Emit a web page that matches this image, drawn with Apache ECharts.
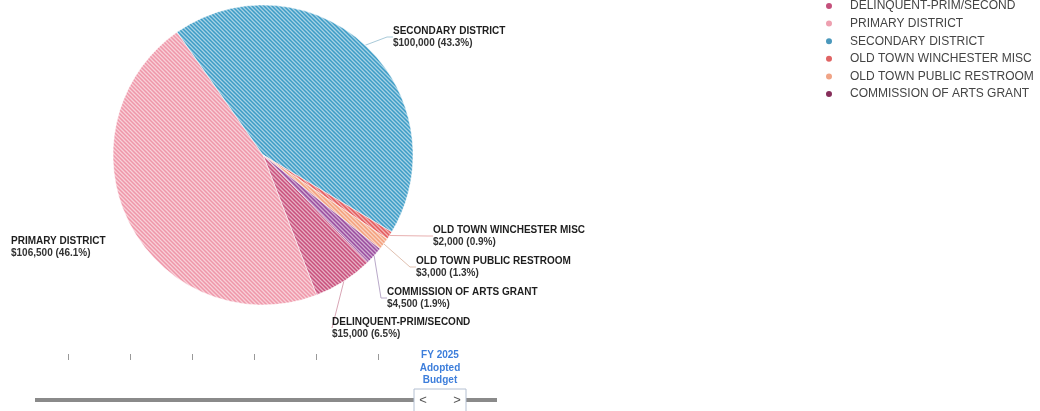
<!DOCTYPE html>
<html>
<head>
<meta charset="utf-8">
<script src="https://cdn.jsdelivr.net/npm/echarts@6/dist/echarts.min.js"></script>
<style>
  html, body { margin: 0; padding: 0; background: #ffffff; }
  #chart { width: 1040px; height: 411px; }
</style>
</head>
<body>
<div id="chart"></div>
<script>
// Funds in the selected budget and their amounts (USD)
const fundNames = [
  'DELINQUENT-PRIM/SECOND',
  'PRIMARY DISTRICT',
  'SECONDARY DISTRICT',
  'OLD TOWN WINCHESTER MISC',
  'OLD TOWN PUBLIC RESTROOM',
  'COMMISSION OF ARTS GRANT'
];
const fundAmounts = [15000, 106500, 100000, 2000, 3000, 4500];

// Budget versions on the selector strip under the pie
const budgetVersions = [
  'FY 2019\nAdopted\nBudget',
  'FY 2020\nAdopted\nBudget',
  'FY 2021\nAdopted\nBudget',
  'FY 2022\nAdopted\nBudget',
  'FY 2023\nAdopted\nBudget',
  'FY 2024\nAdopted\nBudget',
  'FY 2025\nAdopted\nBudget'
];
const selectedVersion = 'FY 2025\nAdopted\nBudget';

// Styling
const FONT = 'Arial, "Liberation Sans", Helvetica, sans-serif';
const sliceColors  = ['#c9507c', '#ef97a9', '#3d9cc6', '#e45a5c', '#f3a07c', '#9a4c9e'];
const legendColors = ['#c4507c', '#eea0b0', '#4a98bc', '#e06464', '#f0a486', '#862e5a'];
const connectorColors = ['#d9a6b6', '#f2c4cc', '#a9cad9', '#e8b0b0', '#e0c0b0', '#b9a9c9'];

// Where each slice's label sits (left edge, vertical middle)
const labelSpots = [
  [332, 328],
  [11, 247],
  [393, 37],
  [433, 236],
  [416, 267],
  [387, 298]
];

// Diagonal hatch fill for a slice
function hatch(color) {
  const c = document.createElement('canvas');
  c.width = 4; c.height = 4;
  const g = c.getContext('2d');
  g.fillStyle = color;
  g.fillRect(0, 0, 4, 4);
  g.strokeStyle = 'rgba(255,255,255,0.55)';
  g.lineWidth = 1.3;
  g.beginPath();
  g.moveTo(-1, -1); g.lineTo(5, 5);
  g.moveTo(-1, 3); g.lineTo(1, 5);
  g.moveTo(3, -1); g.lineTo(5, 1);
  g.stroke();
  return { image: c, repeat: 'repeat' };
}

const pieData = fundNames.map((name, i) => ({
  name: name,
  value: fundAmounts[i],
  itemStyle: { color: hatch(sliceColors[i]) },
  labelLine: { show: name !== 'PRIMARY DISTRICT', lineStyle: { color: connectorColors[i] } }
}));

const chart = echarts.init(document.getElementById('chart'), null, { renderer: 'canvas' });

chart.setOption({
  animation: false,
  backgroundColor: '#ffffff',
  legend: {
    orient: 'vertical',
    left: 819,
    top: -5,
    icon: 'circle',
    itemWidth: 8,
    itemHeight: 8,
    itemGap: 5.6,
    selectedMode: false,
    textStyle: { fontSize: 12, color: '#444', fontFamily: FONT, lineHeight: 12, padding: [0, 0, 0, 12] },
    data: fundNames.map((n, i) => ({ name: n, itemStyle: { color: legendColors[i] } }))
  },
  grid: { left: 37, width: 434, top: 340, height: 14, show: false },
  xAxis: {
    type: 'category',
    data: budgetVersions,
    boundaryGap: true,
    axisLine: { show: false },
    axisTick: {
      show: true,
      alignWithLabel: true,
      length: 6,
      interval: (i) => i < budgetVersions.length - 1,
      lineStyle: { color: '#999', width: 1 }
    },
    axisLabel: {
      interval: (i, v) => v === selectedVersion,
      margin: -5,
      color: '#3d7edb',
      fontSize: 10,
      fontWeight: 'bold',
      lineHeight: 12.5,
      fontFamily: FONT
    },
    splitLine: { show: false }
  },
  yAxis: { type: 'value', show: false },
  series: [{
    type: 'pie',
    center: [263, 155],
    radius: 150,
    startAngle: -45.7,
    clockwise: true,
    percentPrecision: 1,
    avoidLabelOverlap: false,
    itemStyle: { borderColor: '#ffffff', borderWidth: 0.5 },
    label: {
      show: true,
      position: 'outside',
      formatter: (p) => '{n|' + p.name + '}\n{v|$' + echarts.format.addCommas(p.value) + ' (' + p.percent + '%)}',
      rich: {
        n: { fontSize: 10, fontWeight: 'bold', color: '#1e1e1e', lineHeight: 12, fontFamily: FONT },
        v: { fontSize: 10, fontWeight: 'bold', color: '#333', lineHeight: 12, fontFamily: FONT }
      }
    },
    labelLine: { show: true, length: 18, length2: 6, lineStyle: { width: 1 } },
    labelLayout: (params) => {
      const s = labelSpots[params.dataIndex];
      return { x: s[0], y: s[1], align: 'left', verticalAlign: 'middle' };
    },
    emphasis: { disabled: true },
    data: pieData
  }]
});

// Selector track with the navigation box under the selected version
const selX = chart.convertToPixel({ xAxisIndex: 0 }, selectedVersion);
const trackY = 400;
chart.setOption({
  graphic: [
    { type: 'line', z: 10, shape: { x1: 35, y1: trackY, x2: 497, y2: trackY },
      style: { stroke: '#8a8a8a', lineWidth: 4 } },
    { type: 'rect', z: 11, shape: { x: selX - 26, y: trackY - 11, width: 52, height: 26 },
      style: { fill: '#ffffff', stroke: '#b4c0d2', lineWidth: 1 } },
    { type: 'text', z: 12, x: selX - 17, y: trackY,
      style: { text: '<', fontSize: 13, fill: '#555', fontFamily: FONT, align: 'center', verticalAlign: 'middle' } },
    { type: 'text', z: 12, x: selX + 17, y: trackY,
      style: { text: '>', fontSize: 13, fill: '#555', fontFamily: FONT, align: 'center', verticalAlign: 'middle' } }
  ]
});
</script>
</body>
</html>
